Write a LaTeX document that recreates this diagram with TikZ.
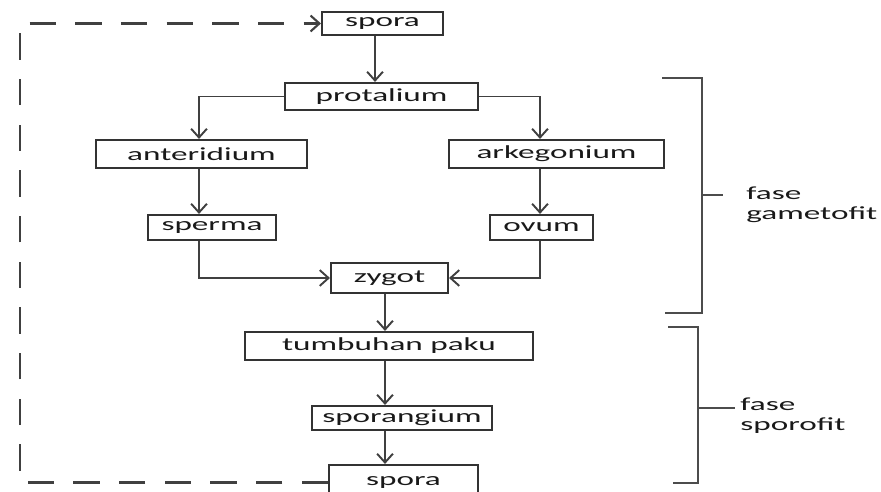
\documentclass[tikz,border=0pt]{standalone}
\usepackage{fontspec}
\setmainfont[FakeStretch=1.8]{Carlito}
\usetikzlibrary{arrows.meta}
\tikzset{box/.style={rectangle,draw=black!80,line width=1.2pt,inner sep=0pt,font=\fontsize{10.5}{12}\selectfont,text=black!90},
  arr/.style={draw=black!75,line width=1.1pt,-{Straight Barb[length=5pt,width=9pt]}},
  fb/.style={draw=black!75,line width=1.2pt,dash pattern=on 15pt off 11pt,-{Straight Barb[length=5pt,width=9pt]}},
  brak/.style={draw=black!70,line width=1.2pt},
  lbl/.style={anchor=west,align=left,inner sep=0pt,font=\fontsize{10.5}{11.3}\selectfont,text=black!90}}

\begin{document}
\begin{tikzpicture}[x=0.02cm,y=-0.02cm]
\useasboundingbox (0,0) rectangle (881,492);
% columns of the arrows
\coordinate (cT) at (375,0);
\coordinate (cL) at (199,0);
\coordinate (cR) at (540,0);
\coordinate (cZ) at (385,0);
\coordinate (corner) at (20,23.5);
% boxes
\node (spora1) at (382.5,23.5) [box,minimum width=2.42cm,minimum height=0.46cm] {spora};
\node (protal) at (381.5,96.5) [box,minimum width=3.86cm,minimum height=0.54cm] {protalium};
\node (anter) at (201.5,154) [box,minimum width=4.22cm,minimum height=0.56cm] {anteridium};
\node (arkeg) at (556.5,154) [box,minimum width=4.30cm,minimum height=0.56cm] {arkegonium};
\node (sperma) at (212,227.5) [box,minimum width=2.56cm,minimum height=0.5cm] {sperma};
\node (ovum) at (541.5,227.5) [box,minimum width=2.06cm,minimum height=0.5cm] {ovum};
\node (zygot) at (389.5,278) [box,minimum width=2.34cm,minimum height=0.6cm] {zygot};
\node (tumbuh) at (389,346) [box,minimum width=5.76cm,minimum height=0.56cm] {tumbuhan paku};
\node (sporang) at (402,418) [box,minimum width=3.6cm,minimum height=0.48cm] {sporangium};
\node (spora2) at (403.5,482.5) [box,minimum width=2.98cm,minimum height=0.7cm] {spora};
% arrows
\draw[arr] (spora1.south -| cT) -- (protal.north -| cT);
\draw[arr] (protal.west) -| (anter.north -| cL);
\draw[arr] (protal.east) -| (arkeg.north -| cR);
\draw[arr] (anter.south -| cL) -- (sperma.north -| cL);
\draw[arr] (arkeg.south -| cR) -- (ovum.north -| cR);
\draw[arr] (sperma.south -| cL) |- (zygot.west);
\draw[arr] (ovum.south -| cR) |- (zygot.east);
\draw[arr] (zygot.south -| cZ) -- (tumbuh.north -| cZ);
\draw[arr] (tumbuh.south -| cZ) -- (sporang.north -| cZ);
\draw[arr] (sporang.south -| cZ) -- (spora2.north -| cZ);
% back to the first spora
\draw[fb] (spora2.west) -| (corner) -- (spora1.west);
% phases
\draw[brak] (662,78) -| (702,313) -- (665,313) (702,195) -- (723,195);
\node (gamet) at (746,205) [lbl] {fase\\gametofit};
\draw[brak] (668,327) -| (698,483) -- (673,483) (698,408) -- (735,408);
\node (sporof) at (740,416) [lbl] {fase\\sporofit};
\end{tikzpicture}
\end{document}
